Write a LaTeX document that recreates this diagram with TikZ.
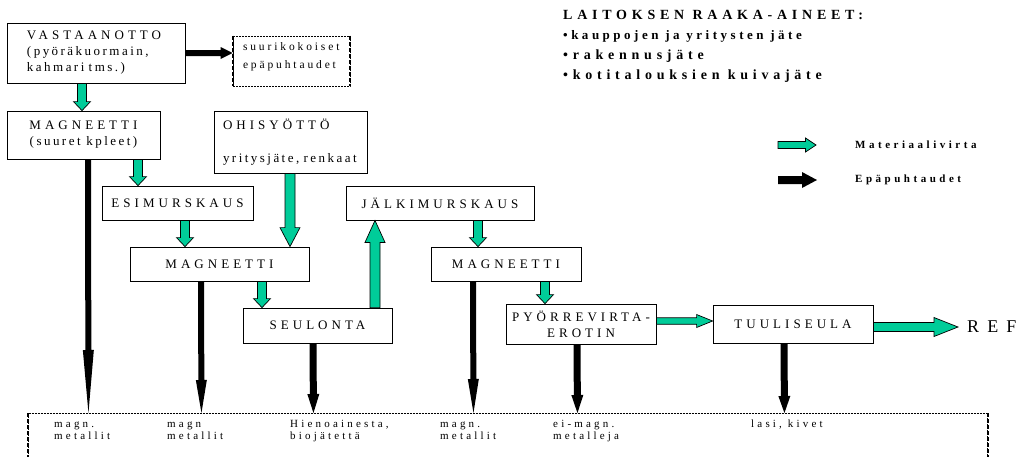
\documentclass[tikz,border=0pt]{standalone}
\usepackage{fontspec}
\setmainfont{Liberation Serif}
\newfontfamily\capsf[LetterSpace=31]{Liberation Serif}
\newfontfamily\lowf[LetterSpace=19]{Liberation Serif}
\newfontfamily\smallf[LetterSpace=29]{Liberation Serif}
\newfontfamily\sukpf[LetterSpace=25]{Liberation Serif}
\newfontfamily\titlef[LetterSpace=34]{Liberation Serif}
\newfontfamily\bulf[LetterSpace=27]{Liberation Serif}
\newfontfamily\legf[LetterSpace=32]{Liberation Serif}
\newfontfamily\reff[LetterSpace=45]{Liberation Serif}
\usetikzlibrary{calc}
\definecolor{flowgreen}{HTML}{00CC99}
% block arrow: [style]{start}{end}{shaft width}{head width}{head length}
\newcommand\blk[6][]{%
\draw[#1] let \p1=#2,\p2=#3,
 \n1={atan2(\y2-\y1,\x2-\x1)},
 \n2={veclen(\x2-\x1,\y2-\y1)},
 \n3={cos(\n1)}, \n4={sin(\n1)},
 \n5={\n2-#6}, \n6={#4/2}, \n7={#5/2} in
 ({\x1-\n6*\n4*1pt},{\y1+\n6*\n3*1pt}) --
 ({\x1+\n5*\n3*1pt-\n6*\n4*1pt},{\y1+\n5*\n4*1pt+\n6*\n3*1pt}) --
 ({\x1+\n5*\n3*1pt-\n7*\n4*1pt},{\y1+\n5*\n4*1pt+\n7*\n3*1pt}) --
 ({\x1+\n2*\n3*1pt},{\y1+\n2*\n4*1pt}) --
 ({\x1+\n5*\n3*1pt+\n7*\n4*1pt},{\y1+\n5*\n4*1pt-\n7*\n3*1pt}) --
 ({\x1+\n5*\n3*1pt+\n6*\n4*1pt},{\y1+\n5*\n4*1pt-\n6*\n3*1pt}) --
 ({\x1+\n6*\n4*1pt},{\y1-\n6*\n3*1pt}) -- cycle;}
\begin{document}
\begin{tikzpicture}[x=1pt,y=-1pt,
  box/.style={draw, line width=0.8pt, inner sep=0pt, align=center,
    font=\capsf\fontsize{13}{16}\selectfont},
  dotbox/.style={draw, line width=0.9pt, dash pattern=on 2pt off 1pt, inner sep=0pt},
  sidedash/.style={line width=2pt, dash pattern=on 4pt off 2pt},
  lab/.style={anchor=north west, inner sep=0pt, align=left,
    font=\smallf\fontsize{11}{12}\selectfont},
  garrow/.style={fill=flowgreen, draw=black, line width=0.7pt},
  barrow/.style={fill=black, draw=none}]
\useasboundingbox (0,0) rectangle (1028,456);
\clip (0,0) rectangle (1028,456);

% boxes
\node[box, minimum width=178pt, minimum height=60pt, text width=138pt, align=left] (vast) at (96,53)
  {VASTAANOTTO\\\lowf(pyöräkuormain,\\kahmari tms.)};
\node[dotbox, minimum width=117pt, minimum height=50pt, text width=97pt, align=left,
  font=\sukpf\fontsize{11.5}{18}\selectfont] (sukp) at (291.5,61)
  {suurikokoiset\\epäpuhtaudet\\[-7pt]\mbox{}};
\node[box, minimum width=153pt, minimum height=48pt] (mag1) at (83.5,135)
  {MAGNEETTI\\\lowf(suuret kpleet)};
\node[box, minimum width=153pt, minimum height=62pt, text width=135pt, align=left] (ohis) at (290.5,142)
  {OHISYÖTTÖ\\[17pt]\lowf yritysjäte, renkaat};
\node[box, minimum width=151pt, minimum height=34pt] (esim) at (177.5,203) {ESIMURSKAUS};
\node[box, minimum width=188pt, minimum height=34pt] (jalk) at (440,203) {JÄLKIMURSKAUS};
\node[box, minimum width=179pt, minimum height=34pt] (mag2) at (219.5,264) {MAGNEETTI};
\node[box, minimum width=150pt, minimum height=34pt] (mag3) at (506,264) {MAGNEETTI};
\node[box, minimum width=149pt, minimum height=35pt] (seul) at (317.5,325.5) {SEULONTA};
\node[box, minimum width=150pt, minimum height=40pt] (pyor) at (581,324) {PYÖRREVIRTA-\\EROTIN};
\node[box, minimum width=160pt, minimum height=38pt] (tuul) at (793,324) {TUULISEULA};
\node[anchor=west, inner sep=0pt, font=\reff\fontsize{18}{20}\selectfont] (ref) at (967,327) {REF};

% bottom collection box
\node[dotbox, minimum width=959pt, minimum height=80pt, anchor=north west] (bot) at (28,413) {};
\draw[sidedash] (bot.north west) -- (bot.south west);
\draw[sidedash] (bot.north east) -- (bot.south east);
\draw[sidedash] (sukp.north west) -- (sukp.south west);
\draw[sidedash] (sukp.north east) -- (sukp.south east);

\node[lab] (l1) at (54,420) {\rule{0pt}{7.5pt}magn.\\metallit};
\node[lab] (l2) at (167,420) {\rule{0pt}{7.5pt}magn\\metallit};
\node[lab] (l3) at (290,420) {\rule{0pt}{7.5pt}Hienoainesta,\\biojätettä};
\node[lab] (l4) at (440,420) {\rule{0pt}{7.5pt}magn.\\metallit};
\node[lab] (l5) at (553,420) {\rule{0pt}{7.5pt}ei-magn.\\metalleja};
\node[lab] (l6) at (751,420) {\rule{0pt}{7.5pt}lasi, kivet};

% title
\node[anchor=north west, inner sep=0pt, align=left,
  font=\titlef\bfseries\fontsize{14}{20}\selectfont] (raw) at (563,9.5)
  {\rule{0pt}{10pt}LAITOKSEN RAAKA-AINEET:\\\bulf\fontsize{13}{20}\selectfont
   •kauppojen ja yritysten jäte\\•rakennusjäte\\•kotitalouksien kuivajäte};

% legend
\node[anchor=west, inner sep=0pt, font=\legf\bfseries\fontsize{11}{12}\selectfont] (legm) at (855,145) {Materiaalivirta};
\node[anchor=west, inner sep=0pt, font=\legf\bfseries\fontsize{11}{12}\selectfont] (lege) at (855,180) {Epäpuhtaudet};
\blk[garrow]{($(legm.west)+(-77,0)$)}{($(legm.west)+(-39,0)$)}{7}{14}{10.5}
\blk[barrow]{($(lege.west)+(-77,0)$)}{($(lege.west)+(-38,0)$)}{8}{16}{15}

% material flow (green)
\blk[garrow]{($(vast.south)+(-14,0)$)}{($(mag1.north)+(-1.5,0)$)}{9}{17}{9}
\blk[garrow]{($(mag1.south)+(54.5,0)$)}{($(esim.north)+(-39.5,0)$)}{9}{17}{9}
\blk[garrow]{($(esim.south)+(7.5,0)$)}{($(mag2.north)+(-34.5,0)$)}{9}{17}{9}
\blk[garrow]{($(ohis.south)+(-0.5,0)$)}{($(mag2.north)+(70.5,0)$)}{10}{20}{19}
\blk[garrow]{($(mag2.south)+(42.5,0)$)}{($(seul.north)+(-55.5,0)$)}{9}{17}{9}
\blk[garrow]{($(seul.north)+(57.5,0)$)}{($(jalk.south)+(-65,0)$)}{10}{20}{22}
\blk[garrow]{($(jalk.south)+(38,0)$)}{($(mag3.north)+(-28,0)$)}{9}{17}{9}
\blk[garrow]{($(mag3.south)+(39,0)$)}{($(pyor.north)+(-36,0)$)}{9}{17}{9}
\blk[garrow]{($(pyor.east)+(0,-3)$)}{($(tuul.west)+(0,-3)$)}{6.5}{13}{16}
\blk[garrow]{($(tuul.east)+(0,3)$)}{($(ref.west)+(-9,0)$)}{9}{19}{24}

% impurities (black)
\blk[barrow]{(vast.east)}{(sukp.west |- vast.east)}{6}{12}{12}
\blk[barrow]{($(mag1.south)+(4.5,0)$)}{($(bot.north)+(-419.5,0)$)}{6}{11}{63}
\blk[barrow]{($(mag2.south)+(-18.5,0)$)}{($(bot.north)+(-306.5,0)$)}{6}{11}{33}
\blk[barrow]{($(seul.south)+(-4.5,0)$)}{($(bot.north)+(-194.5,0)$)}{7}{12}{19}
\blk[barrow]{($(mag3.south)+(-33,0)$)}{($(bot.north)+(-34.5,0)$)}{6}{11}{34}
\blk[barrow]{($(pyor.south)+(-4,0)$)}{($(bot.north)+(69.5,0)$)}{7}{12}{18}
\blk[barrow]{($(tuul.south)+(-9,0)$)}{($(bot.north)+(276.5,0)$)}{7}{12}{17}
\end{tikzpicture}
\end{document}
